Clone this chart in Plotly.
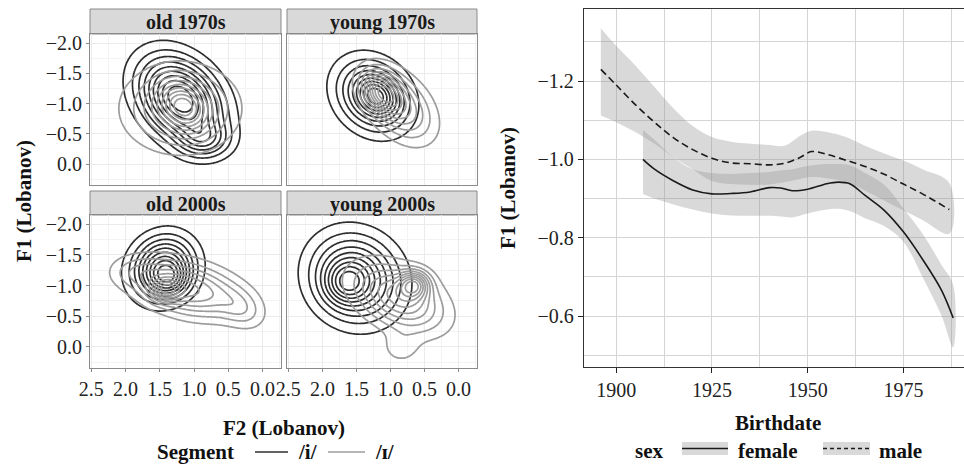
import numpy as np
import plotly.graph_objects as go

W, H = 964, 465

# ---------------- data: left panel (vowel density components) ----------------
facet_names = ["old 1970s", "young 1970s", "old 2000s", "young 2000s"]
segments = ["/i/", "/ɪ/"]
# each component: (F2 centre, F1 centre, sd F2, sd F1, correlation, weight)
dens_old1970s_i = [(1.20, -1.08, 0.39, 0.45, -0.30, 1.0), (0.85, -0.40, 0.25, 0.20, 0.0, 0.10)]
dens_old1970s_I = [(1.15, -0.95, 0.22, 0.25, -0.2, 0.25), (1.20, -0.92, 0.50, 0.43, 0.0, 1.0)]
dens_young1970s_i = [(1.20, -1.12, 0.18, 0.20, -0.2, 0.15), (1.26, -1.13, 0.35, 0.39, -0.2, 1.0)]
dens_young1970s_I = [(1.12, -1.20, 0.20, 0.24, -0.3, 0.55), (0.85, -0.95, 0.32, 0.38, -0.4, 1.0)]
dens_old2000s_i = [(1.45, -1.28, 0.30, 0.34, 0.10, 1.0), (1.35, -1.10, 0.18, 0.18, 0.0, 0.12)]
dens_old2000s_I = [(1.42, -0.92, 0.15, 0.12, 0.0, 0.10), (1.10, -0.95, 0.50, 0.30, -0.35, 1.0),
                   (1.85, -1.22, 0.25, 0.17, 0.0, 0.08), (0.30, -0.62, 0.22, 0.22, -0.3, 0.10)]
dens_young2000s_i = [(1.66, -1.04, 0.20, 0.22, 0.0, 0.10), (1.52, -1.12, 0.42, 0.46, -0.1, 1.0)]
dens_young2000s_I = [(0.65, -1.02, 0.15, 0.15, 0.0, 0.15), (0.88, -0.80, 0.43, 0.36, -0.40, 1.0),
                     (0.85, 0.02, 0.18, 0.17, 0.0, 0.05)]
facet_dens = [
    (dens_old1970s_i, dens_old1970s_I),
    (dens_young1970s_i, dens_young1970s_I),
    (dens_old2000s_i, dens_old2000s_I),
    (dens_young2000s_i, dens_young2000s_I),
]
f2_ticks = [2.5, 2.0, 1.5, 1.0, 0.5, 0.0]
f1_ticks = [-2.0, -1.5, -1.0, -0.5, 0.0]

# ---------------- data: right panel (smooths by sex) ----------------
male_year = [1896, 1900, 1905, 1910, 1915, 1920, 1925, 1930, 1935, 1940, 1944, 1948, 1951, 1955, 1960, 1965, 1970, 1975, 1980, 1987]
male_fit = [-1.230, -1.190, -1.140, -1.095, -1.055, -1.025, -1.003, -0.991, -0.989, -0.986, -0.990, -1.005, -1.020, -1.013, -0.998, -0.982, -0.962, -0.937, -0.912, -0.872]
male_upper = [-1.335, -1.290, -1.240, -1.185, -1.130, -1.085, -1.057, -1.045, -1.040, -1.037, -1.035, -1.060, -1.073, -1.070, -1.057, -1.035, -1.015, -0.997, -0.975, -0.940]
male_lower = [-1.112, -1.095, -1.070, -1.040, -1.005, -0.975, -0.945, -0.937, -0.935, -0.936, -0.942, -0.950, -0.955, -0.952, -0.942, -0.920, -0.895, -0.870, -0.845, -0.810]

female_year = [1907, 1910, 1915, 1920, 1925, 1930, 1935, 1940, 1943, 1946, 1950, 1955, 1958, 1961, 1965, 1970, 1975, 1980, 1985, 1988]
female_fit = [-1.000, -0.975, -0.945, -0.922, -0.912, -0.913, -0.917, -0.928, -0.927, -0.920, -0.924, -0.938, -0.942, -0.938, -0.908, -0.870, -0.815, -0.745, -0.665, -0.595]
female_upper = [-1.075, -1.050, -1.005, -0.975, -0.965, -0.963, -0.965, -0.968, -0.972, -0.975, -0.983, -0.988, -0.988, -0.985, -0.965, -0.935, -0.875, -0.810, -0.730, -0.680]
female_lower = [-0.912, -0.900, -0.885, -0.872, -0.862, -0.857, -0.856, -0.856, -0.854, -0.852, -0.862, -0.872, -0.874, -0.868, -0.850, -0.830, -0.790, -0.700, -0.600, -0.520]

year_ticks = [1900, 1925, 1950, 1975]
f1_right_ticks = [-1.2, -1.0, -0.8, -0.6]

# ---------------- style ----------------
SERIF = "Liberation Serif"
BLACK_C = "#2e2e2e"
GRAY_C = "#9c9c9c"
FS = 20


def px_x(p):
    return p / W


def px_y(p):
    return 1 - p / H


def mixture(comps, X, Y):
    z = np.zeros_like(X)
    for mx, my, sx, sy, rho, w in comps:
        dx = (X - mx) / sx
        dy = (Y - my) / sy
        q = (dx * dx - 2 * rho * dx * dy + dy * dy) / (1 - rho * rho)
        z += w * np.exp(-q / 2) / (2 * np.pi * sx * sy * np.sqrt(1 - rho * rho))
    return z


fig = go.Figure()

facet_boxes = [(90, 281, 34, 185), (287, 477, 34, 185), (90, 281, 215, 368), (287, 477, 215, 368)]
strip_boxes = [(90, 281, 9, 34), (287, 477, 9, 34), (90, 281, 191, 215), (287, 477, 191, 215)]

gx = np.linspace(-0.5, 2.8, 170)
gy = np.linspace(-2.4, 0.6, 160)
GX, GY = np.meshgrid(gx, gy)

for k in range(4):
    ax = "" if k == 0 else str(k + 1)
    for comps, col in zip(facet_dens[k], [BLACK_C, GRAY_C]):
        z = mixture(comps, GX, GY)
        zmax = z.max()
        fig.add_trace(go.Contour(
            x=gx, y=gy, z=z,
            contours=dict(coloring="lines", start=0.1 * zmax, end=0.92 * zmax, size=0.1 * zmax),
            line=dict(width=1.7, smoothing=1),
            colorscale=[[0, col], [1, col]], showscale=False, hoverinfo="skip",
            xaxis="x" + ax, yaxis="y" + ax,
        ))

axis_common = dict(
    showgrid=True, gridcolor="#ebebeb", gridwidth=1,
    showline=True, linecolor="#8a8a8a", linewidth=1, mirror=True,
    zeroline=False, ticks="outside", ticklen=3, tickcolor="#8a8a8a",
    tickfont=dict(family=SERIF, size=FS, color="#222"), automargin=False,
)

layout = {}
for k, (x0, x1, y0, y1) in enumerate(facet_boxes):
    ax = "" if k == 0 else str(k + 1)
    layout["xaxis" + ax] = dict(
        axis_common, domain=[px_x(x0), px_x(x1)], range=[2.52, -0.27],
        anchor="y" + ax, tickvals=f2_ticks, ticktext=[f"{v:.1f}" for v in f2_ticks],
        showticklabels=(k >= 2), ticks="outside" if k >= 2 else "",
        minor=dict(dtick=0.25, tick0=0, showgrid=True, gridcolor="#f3f3f3"),
    )
    layout["yaxis" + ax] = dict(
        axis_common, domain=[px_y(y1), px_y(y0)], range=[0.345, -2.15],
        anchor="x" + ax, tickvals=f1_ticks,
        ticktext=[("−" if v < 0 else "") + f"{abs(v):.1f}" for v in f1_ticks],
        showticklabels=(k % 2 == 0), ticks="outside" if k % 2 == 0 else "",
        minor=dict(dtick=0.25, tick0=0, showgrid=True, gridcolor="#f3f3f3"),
    )

# ---------------- right panel ----------------
BAND = "rgba(150,150,150,0.36)"
fig.add_trace(go.Scatter(
    x=female_year + female_year[::-1], y=female_upper + female_lower[::-1],
    fill="toself", fillcolor=BAND, line=dict(width=0, shape="spline"), mode="lines",
    hoverinfo="skip", showlegend=False, xaxis="x5", yaxis="y5"))
fig.add_trace(go.Scatter(
    x=male_year + male_year[::-1], y=male_upper + male_lower[::-1],
    fill="toself", fillcolor=BAND, line=dict(width=0, shape="spline"), mode="lines",
    hoverinfo="skip", showlegend=False, xaxis="x5", yaxis="y5"))
fig.add_trace(go.Scatter(
    x=female_year, y=female_fit, mode="lines",
    line=dict(color="#1a1a1a", width=1.6, shape="spline"),
    showlegend=False, xaxis="x5", yaxis="y5"))
fig.add_trace(go.Scatter(
    x=male_year, y=male_fit, mode="lines",
    line=dict(color="#1a1a1a", width=1.6, dash="7px,4px", shape="spline"),
    showlegend=False, xaxis="x5", yaxis="y5"))

right_axis = dict(
    showgrid=True, gridcolor="#d4d4d4", gridwidth=1.4,
    showline=True, linecolor="#333", linewidth=1.3, mirror=True,
    zeroline=False, ticks="outside", ticklen=5, tickcolor="#222", tickwidth=1.3,
    tickfont=dict(family=SERIF, size=FS, color="#222"), automargin=False,
)
layout["xaxis5"] = dict(
    right_axis, domain=[px_x(584), px_x(963.5)], range=[1891.6, 1990.7], anchor="y5",
    tickvals=year_ticks, ticktext=[str(v) for v in year_ticks],
    minor=dict(tickvals=[1912.5, 1937.5, 1962.5, 1987.5], showgrid=True, gridcolor="#d4d4d4", gridwidth=1.4, ticks=""),
)
layout["yaxis5"] = dict(
    right_axis, domain=[px_y(367), px_y(9)], range=[-0.47, -1.384], anchor="x5",
    tickvals=f1_right_ticks, ticktext=["−" + f"{abs(v):.1f}" for v in f1_right_ticks],
    minor=dict(tickvals=[-1.3, -1.1, -0.9, -0.7, -0.5], showgrid=True, gridcolor="#d4d4d4", gridwidth=1.4, ticks=""),
)

shapes = []
annotations = []
for (x0, x1, y0, y1), name in zip(strip_boxes, facet_names):
    shapes.append(dict(type="rect", xref="paper", yref="paper",
                       x0=px_x(x0), x1=px_x(x1), y0=px_y(y1), y1=px_y(y0),
                       fillcolor="#d9d9d9", line=dict(color="#8a8a8a", width=1), layer="below"))
    annotations.append(dict(text=f"<b>{name}</b>", xref="paper", yref="paper",
                            x=px_x((x0 + x1) / 2), y=px_y((y0 + y1) / 2 + 1), showarrow=False,
                            font=dict(family=SERIF, size=FS, color="#1a1a1a"),
                            xanchor="center", yanchor="middle"))

title_font = dict(family=SERIF, size=21, color="#111")
annotations += [
    dict(text="<b>F1 (Lobanov)</b>", xref="paper", yref="paper", x=px_x(24), y=px_y(201),
         textangle=-90, showarrow=False, font=title_font, xanchor="center", yanchor="middle"),
    dict(text="<b>F2 (Lobanov)</b>", xref="paper", yref="paper", x=px_x(284), y=px_y(428),
         showarrow=False, font=title_font, xanchor="center", yanchor="middle"),
    dict(text="<b>F1 (Lobanov)</b>", xref="paper", yref="paper", x=px_x(508), y=px_y(188),
         textangle=-90, showarrow=False, font=title_font, xanchor="center", yanchor="middle"),
    dict(text="<b>Birthdate</b>", xref="paper", yref="paper", x=px_x(778), y=px_y(423),
         showarrow=False, font=title_font, xanchor="center", yanchor="middle"),
]

LY = 452
annotations.append(dict(text="<b>Segment</b>", xref="paper", yref="paper", x=px_x(195), y=px_y(LY),
                        showarrow=False, font=title_font, xanchor="center", yanchor="middle"))
for (lx0, lx1, tx), col, lab in zip([(255, 288, 296), (328, 365, 373)], [BLACK_C, GRAY_C], segments):
    shapes.append(dict(type="line", xref="paper", yref="paper", x0=px_x(lx0), x1=px_x(lx1),
                       y0=px_y(LY), y1=px_y(LY), line=dict(color=col, width=1.7)))
    annotations.append(dict(text=f"<b>{lab}</b>", xref="paper", yref="paper", x=px_x(tx), y=px_y(LY),
                            showarrow=False, font=title_font, xanchor="left", yanchor="middle"))

annotations.append(dict(text="<b>sex</b>", xref="paper", yref="paper", x=px_x(649), y=px_y(LY - 1),
                        showarrow=False, font=title_font, xanchor="center", yanchor="middle"))
for (bx0, bx1, tx), dash, lab in zip([(682, 728, 736), (823, 870, 877)], ["solid", "4px,3px"], ["female", "male"]):
    shapes.append(dict(type="rect", xref="paper", yref="paper", x0=px_x(bx0), x1=px_x(bx1),
                       y0=px_y(455), y1=px_y(442), fillcolor="#d9d9d9", line=dict(width=0)))
    shapes.append(dict(type="line", xref="paper", yref="paper", x0=px_x(bx0), x1=px_x(bx1),
                       y0=px_y(448.5), y1=px_y(448.5), line=dict(color="#1a1a1a", width=1.6, dash=dash)))
    annotations.append(dict(text=f"<b>{lab}</b>", xref="paper", yref="paper", x=px_x(tx), y=px_y(LY - 1),
                            showarrow=False, font=title_font, xanchor="left", yanchor="middle"))

fig.update_layout(
    width=W, height=H, margin=dict(l=0, r=0, t=0, b=0, pad=0, autoexpand=False),
    paper_bgcolor="white", plot_bgcolor="white", showlegend=False,
    shapes=shapes, annotations=annotations, **layout,
)

fig.write_html(
    "out.html",
    config={"displayModeBar": False},
    post_script="document.body.style.margin='0';document.body.style.padding='0';document.body.style.overflow='hidden';",
)
